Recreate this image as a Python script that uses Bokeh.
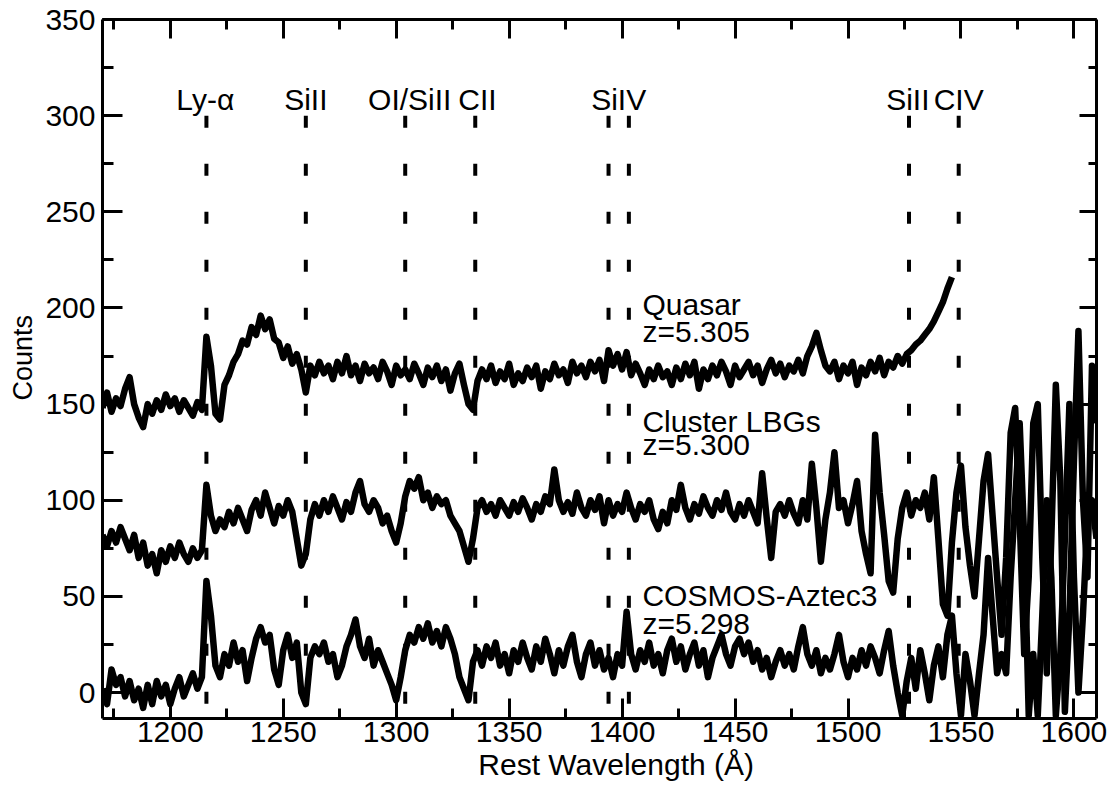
import numpy as np
from bokeh.plotting import figure
from bokeh.models import LinearAxis, Range1d, FixedTicker, Title
from bokeh.core.properties import value
from bokeh.embed import file_html
from bokeh.resources import INLINE

FONT = "Liberation Sans"

# ---------------- data ----------------
x_ticks = [1200, 1250, 1300, 1350, 1400, 1450, 1500, 1550, 1600]
y_ticks = [0, 50, 100, 150, 200, 250, 300, 350]

line_waves = [1216, 1260, 1304, 1335, 1394, 1403, 1527, 1549]
label_names = ["Ly-\u03b1", "SiII", "OI/SiII", "CII", "SiIV", "SiII", "CIV"]
label_waves = [1215.5, 1260, 1306, 1336, 1398.5, 1526.5, 1549]

wave_start = 1170
wave_step = 2

quasar = [
    148, 156, 146, 153, 149, 158, 164, 150, 143, 138,
    150, 145, 152, 147, 155, 149, 153, 146, 152, 148,
    144, 151, 147, 185, 170, 145, 142, 160, 165, 172,
    176, 183, 181, 190, 186, 196, 189, 194, 184, 182,
    174, 180, 171, 176, 168, 156, 170, 165, 172, 166,
    170, 163, 172, 166, 175, 165, 170, 162, 171, 166,
    169, 163, 172, 167, 160, 170, 165, 168, 163, 171,
    166, 160, 169, 164, 170, 162, 168, 157, 166, 171,
    160, 150, 147, 162, 168, 163, 170, 161, 167, 163,
    171, 160, 166, 162, 169, 164, 170, 158, 167, 163,
    171, 165, 168, 161, 172, 166, 170, 164, 172, 167,
    173, 162, 178, 170, 176, 168, 177, 165, 171, 166,
    160, 168, 163, 170, 164, 167, 160, 169, 163, 171,
    165, 172, 158, 168, 163, 170, 165, 172, 167, 160,
    170, 164, 168, 172, 165, 170, 161, 168, 173, 166,
    171, 164, 170, 167, 173, 166, 175, 180, 187, 178,
    170, 167, 172, 163, 170, 166, 172, 160, 169, 165,
    172, 167, 174, 165, 172, 169, 175, 171, 176, 178,
    181, 183, 186, 189, 193, 198, 203, 210, 216,
]

cluster_lbgs = [
    82, 76, 84, 78, 86, 80, 74, 82, 70, 78,
    66, 72, 62, 74, 68, 76, 70, 78, 72, 68,
    75, 70, 74, 108, 92, 84, 90, 86, 94, 88,
    96, 90, 84, 95, 100, 92, 104, 96, 88, 97,
    92, 100, 94, 80, 66, 72, 90, 98, 92, 100,
    94, 102, 96, 90, 99, 94, 104, 110, 98, 94,
    100, 96, 88, 92, 84, 78, 88, 102, 110, 106,
    112, 100, 104, 96, 102, 98, 100, 92, 88, 84,
    76, 68, 80, 96, 100, 94, 98, 92, 100, 96,
    92, 99, 94, 101, 96, 90, 98, 94, 102, 98,
    116, 100, 94, 99, 93, 104, 96, 92, 100, 95,
    102, 88, 100, 92, 98, 94, 104, 96, 90, 98,
    94, 100, 90, 85, 94, 88, 100, 95, 108, 96,
    90, 98, 93, 102, 96, 92, 100, 95, 104, 94,
    90, 98, 92, 100, 94, 88, 114, 91, 70, 94,
    98, 92, 100, 93, 88, 100, 90, 119, 96, 68,
    90, 104, 125, 96, 100, 88, 98, 110, 84, 72,
    62, 134, 104, 82, 58, 52, 80, 96, 104, 92,
    100, 96, 104, 90, 112, 80, 46, 40, 78, 104,
    118, 86, 66, 50, 80, 110, 124, 92, 60, 30,
    70, 135, 148, 90, 20, 60, 140, 150, 70, 10,
    80, 160, 110, -10, 40, 120, 188, 100, 60, 170,
    140,
]

cosmos_aztec3 = [
    2, -6, 12, 4, 8, -2, 6, -4, 2, -8,
    4, -6, 6, -2, 4, -6, 2, 8, -2, 4,
    10, 2, 8, 58, 40, 14, 8, 20, 14, 26,
    16, 22, 6, 18, 28, 34, 26, 30, 12, 4,
    22, 30, 18, 26, 0, -6, 18, 24, 20, 26,
    16, 20, 8, 14, 24, 30, 38, 24, 18, 28,
    14, 22, 16, 10, 4, -4, 8, 22, 30, 26,
    34, 28, 36, 26, 32, 24, 34, 28, 20, 8,
    2, -4, 16, 22, 14, 24, 18, 26, 14, 20,
    10, 22, 16, 26, 18, 12, 24, 16, 28, 20,
    10, 22, 14, 24, 30, 16, 8, 20, 26, 14,
    22, 12, 18, 8, 20, 14, 42, 20, 12, 22,
    16, 26, 14, 20, 10, 22, 28, 16, 24, 12,
    20, 26, 14, 22, 8, 18, 24, 30, 20, 14,
    24, 28, 20, 26, 16, 22, 12, 18, 8, 16,
    22, 14, 20, 12, 24, 34, 20, 14, 22, 10,
    18, 12, 20, 30, 16, 8, 18, 12, 22, 14,
    24, 18, 10, 22, 32, 14, 0, -12, 6, 18,
    2, 22, 10, -4, 14, 24, 8, 30, 40, 10,
    -12, 20, 6, -12, 10, 30, 70, 40, 10, 20,
    10, 60, 100, 140, 80, -12, 20, -12, 40, 100,
    60, -12, 20, 80, 150, 60, 0, 40, 90, 100,
    80,
]

series_names = ["Quasar", "Cluster LBGs", "COSMOS-Aztec3"]
series_z = ["z=5.305", "z=5.300", "z=5.298"]
series_label_x = [1409, 1409, 1409]
series_label_y = [202, 141, 50.5]
series_z_y = [187.5, 129, 36]

# ---------------- figure ----------------
p = figure(width=1108, height=783, x_range=Range1d(1170, 1610), y_range=Range1d(-13.5, 350),
           output_backend="svg", toolbar_location=None,
           x_axis_location=None, y_axis_location=None)
p.min_border_left = 102
p.min_border_right = 12
p.min_border_top = 19
p.min_border_bottom = 65
p.outline_line_color = None
p.xgrid.visible = False
p.ygrid.visible = False
p.background_fill_color = "white"
p.border_fill_color = "white"

x_minor = list(range(1175, 1611, 25))
y_minor = list(range(0, 351, 25))


def style_axis(ax, show_labels, maj_len, min_len):
    ax.axis_line_width = 3
    ax.axis_line_color = "black"
    ax.major_tick_line_width = 3
    ax.minor_tick_line_width = 3
    ax.major_tick_line_color = "black"
    ax.minor_tick_line_color = "black"
    ax.major_tick_in = maj_len
    ax.major_tick_out = 0
    ax.minor_tick_in = min_len
    ax.minor_tick_out = 0
    if show_labels:
        ax.major_label_text_font = FONT
        ax.major_label_text_font_size = "30px"
        ax.major_label_text_color = "black"
    else:
        ax.major_label_text_font_size = "0px"
        ax.major_label_text_color = None


bottom = LinearAxis(ticker=FixedTicker(ticks=x_ticks, minor_ticks=x_minor))
style_axis(bottom, True, 20, 10)
bottom.major_label_standoff = 3
p.add_layout(bottom, "below")

top = LinearAxis(ticker=FixedTicker(ticks=x_ticks, minor_ticks=x_minor))
style_axis(top, False, 19, 10)
p.add_layout(top, "above")

left = LinearAxis(ticker=FixedTicker(ticks=y_ticks, minor_ticks=y_minor))
style_axis(left, True, 20, 11)
left.major_label_standoff = 7
p.add_layout(left, "left")

right = LinearAxis(ticker=FixedTicker(ticks=y_ticks, minor_ticks=y_minor))
style_axis(right, False, 17, 8)
p.add_layout(right, "right")

# axis titles (leading no-break spaces nudge the visible text off-centre as in the original)
xt = Title(text="\u00a0\u00a0\u00a0\u00a0Rest Wavelength (\u00c5)", align="center", standoff=2,
           text_font=FONT, text_font_size="30px", text_font_style="normal", text_color="black")
p.add_layout(xt, "below")
yt = Title(text="\u00a0\u00a0\u00a0Counts", align="center", standoff=10,
           text_font=FONT, text_font_size="27px", text_font_style="normal", text_color="black")
p.add_layout(yt, "left")

# dashed line markers
p.segment(x0=line_waves, y0=[300] * len(line_waves), x1=line_waves, y1=[-14] * len(line_waves),
          line_color="black", line_width=4, line_dash="12 36")

# spectra
for vals in (quasar, cluster_lbgs, cosmos_aztec3):
    wl = wave_start + wave_step * np.arange(len(vals))
    p.line(wl, vals, line_color="black", line_width=6.5, line_join="round")

# line identification labels
p.text(x=label_waves, y=[308.5] * len(label_waves), text=label_names,
       text_font=value(FONT), text_font_size="30px", text_color="black",
       text_align="center", text_baseline="alphabetic")

# series labels
p.text(x=series_label_x, y=series_label_y, text=series_names,
       text_font=value(FONT), text_font_size="30px", text_color="black",
       text_align="left", text_baseline="alphabetic")
p.text(x=series_label_x, y=series_z_y, text=series_z,
       text_font=value(FONT), text_font_size="30px", text_color="black",
       text_align="left", text_baseline="alphabetic")

open("out.html", "w").write(file_html(p, INLINE))
